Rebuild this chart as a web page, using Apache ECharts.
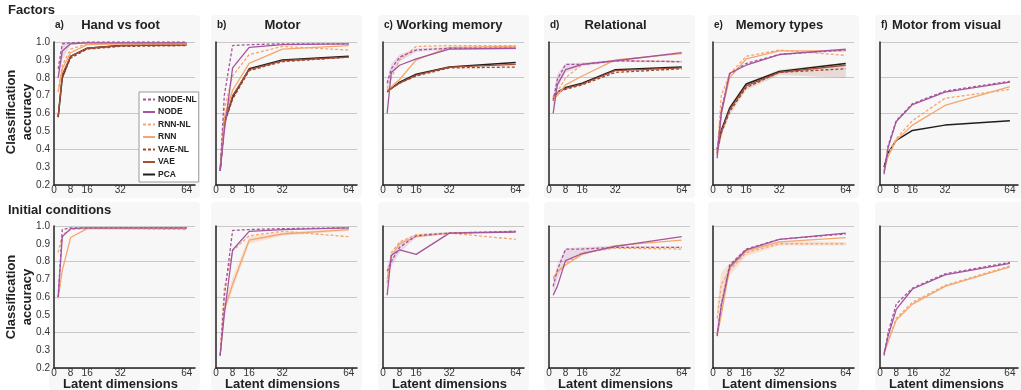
<!DOCTYPE html>
<html>
<head>
<meta charset="utf-8">
<script src="https://cdn.jsdelivr.net/npm/echarts@6/dist/echarts.min.js"></script>
<style>
  html, body { margin: 0; padding: 0; background: #fff; }
  #chart { width: 1021px; height: 390px; }
</style>
</head>
<body>
<div id="chart"></div>
<script>
// latent dimensions sampled
const xDims = [2, 4, 8, 16, 32, 64];
const xTickLabels = [0, 8, 16, 32, 64];
const seriesNames = ['NODE-NL', 'NODE', 'RNN-NL', 'RNN', 'VAE-NL', 'VAE', 'PCA'];
const panelTitles = ['Hand vs foot', 'Motor', 'Working memory', 'Relational', 'Memory types', 'Motor from visual'];
const panelLetters = ['a)', 'b)', 'c)', 'd)', 'e)', 'f)'];

// rows follow seriesNames order, null = not plotted
const factorsHand = [
  [0.85, 0.99, 0.995, 1.0, 1.0, 1.0],
  [0.80, 0.95, 0.99, 0.995, 0.995, 0.995],
  [0.72, 0.87, 0.96, 0.99, 0.99, 0.99],
  [0.72, 0.85, 0.94, 0.985, 0.99, 0.99],
  [0.58, 0.80, 0.91, 0.96, 0.975, 0.98],
  [0.58, 0.82, 0.92, 0.965, 0.98, 0.985],
  [0.58, 0.80, 0.92, 0.965, 0.98, 0.985]
];
const factorsMotor = [
  [0.28, 0.70, 0.98, 0.985, 0.99, 0.99],
  [0.28, 0.50, 0.855, 0.97, 0.985, 0.99],
  [0.28, 0.62, 0.81, 0.93, 0.975, 0.955],
  [0.28, 0.58, 0.73, 0.88, 0.96, 0.98],
  [0.28, 0.54, 0.68, 0.84, 0.89, 0.915],
  [0.28, 0.55, 0.70, 0.845, 0.895, 0.915],
  [0.28, 0.55, 0.69, 0.85, 0.90, 0.92]
];
const factorsWM = [
  [0.77, 0.85, 0.915, 0.955, 0.965, 0.965],
  [0.60, 0.83, 0.87, 0.905, 0.96, 0.965],
  [0.74, 0.80, 0.90, 0.975, 0.98, 0.98],
  [0.73, 0.75, 0.79, 0.90, 0.97, 0.975],
  [0.72, 0.74, 0.77, 0.81, 0.855, 0.86],
  [0.72, 0.74, 0.77, 0.815, 0.86, 0.875],
  [0.73, 0.74, 0.775, 0.82, 0.86, 0.885]
];
const factorsRel = [
  [0.67, 0.79, 0.875, 0.875, 0.895, 0.89],
  [0.60, 0.76, 0.845, 0.875, 0.895, 0.94],
  [0.69, 0.72, 0.80, 0.875, 0.895, 0.89],
  [0.68, 0.70, 0.76, 0.81, 0.90, 0.935],
  [0.68, 0.715, 0.735, 0.76, 0.83, 0.85],
  [0.68, 0.72, 0.74, 0.765, 0.84, 0.855],
  [0.69, 0.72, 0.745, 0.77, 0.845, 0.86]
];
const factorsMem = [
  [0.37, 0.62, 0.82, 0.88, 0.93, 0.955],
  [0.35, 0.60, 0.825, 0.87, 0.93, 0.96],
  [0.38, 0.70, 0.82, 0.92, 0.955, 0.925],
  [0.38, 0.60, 0.80, 0.905, 0.95, 0.95],
  [0.38, 0.49, 0.61, 0.745, 0.83, 0.85],
  [0.39, 0.50, 0.62, 0.755, 0.83, 0.87],
  [0.40, 0.505, 0.63, 0.765, 0.835, 0.88]
];
const factorsVis = [
  [0.27, 0.42, 0.56, 0.655, 0.725, 0.78],
  [0.26, 0.41, 0.555, 0.65, 0.72, 0.775],
  [0.28, 0.37, 0.46, 0.56, 0.685, 0.735],
  [0.28, 0.36, 0.45, 0.535, 0.645, 0.75],
  null,
  null,
  [0.30, 0.38, 0.45, 0.505, 0.535, 0.56]
];
const initHand = [
  [0.60, 0.98, 0.99, 0.99, 0.99, 0.99],
  [0.60, 0.94, 0.985, 0.99, 0.99, 0.99],
  [0.85, 0.95, 0.98, 0.985, 0.985, 0.98],
  [0.59, 0.75, 0.935, 0.985, 0.985, 0.985],
  null, null, null
];
const initMotor = [
  [0.27, 0.60, 0.975, 0.98, 0.985, 0.99],
  [0.27, 0.50, 0.865, 0.97, 0.98, 0.99],
  [0.27, 0.65, 0.86, 0.945, 0.97, 0.94],
  [0.27, 0.53, 0.67, 0.92, 0.955, 0.98],
  null, null, null
];
const initWM = [
  [0.745, 0.80, 0.88, 0.945, 0.96, 0.97],
  [0.61, 0.835, 0.865, 0.84, 0.96, 0.965],
  [0.68, 0.85, 0.91, 0.95, 0.96, 0.925],
  [0.70, 0.83, 0.90, 0.94, 0.96, 0.97],
  null, null, null
];
const initRel = [
  [0.66, 0.75, 0.87, 0.87, 0.88, 0.88],
  [0.61, 0.66, 0.805, 0.845, 0.885, 0.94],
  [0.71, 0.74, 0.79, 0.85, 0.875, 0.87],
  [0.70, 0.74, 0.78, 0.84, 0.89, 0.92],
  null, null, null
];
const initMem = [
  [0.38, 0.56, 0.78, 0.87, 0.925, 0.955],
  [0.39, 0.55, 0.77, 0.865, 0.925, 0.96],
  [0.48, 0.67, 0.75, 0.85, 0.90, 0.90],
  [0.38, 0.50, 0.76, 0.86, 0.91, 0.935],
  null, null, null
];
const initVis = [
  [0.27, 0.40, 0.56, 0.65, 0.73, 0.795],
  [0.28, 0.38, 0.53, 0.645, 0.725, 0.79],
  [0.29, 0.35, 0.48, 0.57, 0.665, 0.775],
  [0.28, 0.35, 0.47, 0.56, 0.66, 0.77],
  null, null, null
];

// shaded spread bands: [panel, series, lower, upper]
const bandHandNode = [0, 0, [0.78, 0.90, 0.985, 0.995, 0.995, 0.995], [0.86, 1.0, 1.0, 1.0, 1.0, 1.0]];
const bandWMNode = [2, 0, [0.74, 0.82, 0.89, 0.945, 0.958, 0.958], [0.79, 0.88, 0.93, 0.965, 0.972, 0.972]];
const bandRelNode = [3, 0, [0.63, 0.74, 0.83, 0.865, 0.888, 0.885], [0.70, 0.82, 0.88, 0.885, 0.90, 0.895]];
const bandMemVae = [4, 4, [0.36, 0.47, 0.59, 0.73, 0.815, 0.80], [0.41, 0.52, 0.64, 0.77, 0.845, 0.885]];
const bandInitMotorRnn = [7, 3, [0.25, 0.50, 0.64, 0.90, 0.945, 0.972], [0.29, 0.57, 0.71, 0.94, 0.965, 0.985]];
const bandInitWMNode = [8, 0, [0.72, 0.77, 0.85, 0.935, 0.955, 0.962], [0.77, 0.84, 0.91, 0.955, 0.966, 0.975]];
const bandInitRelNode = [9, 0, [0.62, 0.70, 0.80, 0.845, 0.875, 0.875], [0.68, 0.78, 0.875, 0.88, 0.89, 0.885]];
const bandInitMemRnn = [10, 2, [0.42, 0.60, 0.72, 0.83, 0.89, 0.89], [0.54, 0.74, 0.79, 0.87, 0.915, 0.91]];

const panels = [factorsHand, factorsMotor, factorsWM, factorsRel, factorsMem, factorsVis,
                initHand, initMotor, initWM, initRel, initMem, initVis];
const bands = [bandHandNode, bandWMNode, bandRelNode, bandMemVae, bandInitMotorRnn, bandInitWMNode, bandInitRelNode, bandInitMemRnn];

const FONT = '"Liberation Sans", Arial, sans-serif';
const colors = ['#a4549c', '#a4549c', '#f5a56e', '#f5a56e', '#9e4732', '#a54f36', '#1e1e1e'];
const bandColors = ['rgba(164,84,156,0.18)', 'rgba(164,84,156,0.18)', 'rgba(245,165,110,0.25)', 'rgba(245,165,110,0.25)',
                    'rgba(158,71,50,0.16)', 'rgba(158,71,50,0.16)', 'rgba(0,0,0,0.1)'];
const dashed = [true, false, true, false, true, false, false];

const colLeft = [54, 216, 383, 549, 713, 880];
const rowTop = [42, 226];
const rowH = [143, 142];
const gridW = 141;

let grids = [], xAxes = [], yAxes = [], series = [], graphics = [];

panels.forEach((panel, p) => {
  const r = Math.floor(p / 6), c = p % 6;
  grids.push({ left: colLeft[c], top: rowTop[r], width: gridW, height: rowH[r], containLabel: false });
  xAxes.push({
    type: 'value', gridIndex: p, min: 0, max: 68, interval: 8,
    axisLine: { show: true, lineStyle: { color: '#222', width: 1.5 } },
    axisTick: { show: false },
    splitLine: { show: false },
    axisLabel: {
      fontFamily: FONT, fontSize: 10, color: '#333', margin: 0,
      formatter: v => xTickLabels.includes(v) ? String(v) : ''
    }
  });
  yAxes.push({
    type: 'value', gridIndex: p, min: 0.2, max: 1.0, interval: 0.1,
    axisLine: { show: true, lineStyle: { color: '#222', width: 1.5 } },
    axisTick: { show: false },
    splitLine: { show: true, lineStyle: { color: ['#c8c8c8', 'rgba(0,0,0,0)'], width: 1 } },
    axisLabel: {
      show: c === 0, fontFamily: FONT, fontSize: 10, color: '#333', margin: 4,
      formatter: v => v.toFixed(1)
    }
  });
  panel.forEach((vals, s) => {
    if (!vals) return;
    series.push({
      name: seriesNames[s], type: 'line', xAxisIndex: p, yAxisIndex: p,
      data: xDims.map((x, i) => [x, vals[i]]),
      showSymbol: false, symbol: 'none', silent: true,
      z: 10 - s,
      lineStyle: { color: colors[s], width: s === 6 ? 1.5 : 1.3, type: dashed[s] ? [3, 2] : 'solid' },
      itemStyle: { color: colors[s] }
    });
  });
  // panel background
  graphics.push({
    type: 'rect', z: -100, silent: true,
    shape: { x: colLeft[c] - 5, y: r === 0 ? 15 : 202, width: 151, height: r === 0 ? 183 : 188, r: 4 },
    style: { fill: '#f7f7f7' }
  });
  if (r === 0) {
    graphics.push({
      type: 'text', silent: true, x: colLeft[c] + 1, y: 25,
      style: { text: panelLetters[c], font: 'bold 10px ' + FONT, fill: '#222', textVerticalAlign: 'middle' }
    });
    graphics.push({
      type: 'text', silent: true, x: colLeft[c] + gridW / 2 - 4, y: 25,
      style: { text: panelTitles[c], font: 'bold 13px ' + FONT, fill: '#222', textAlign: 'center', textVerticalAlign: 'middle' }
    });
  } else {
    graphics.push({
      type: 'text', silent: true, x: colLeft[c] + gridW / 2 - 4, y: 384,
      style: { text: 'Latent dimensions', font: 'bold 13px ' + FONT, fill: '#222', textAlign: 'center', textVerticalAlign: 'middle' }
    });
  }
});

// spread bands as polygons through the axis scales
bands.forEach(([p, s, lo, hi]) => {
  series.push({
    type: 'custom', xAxisIndex: p, yAxisIndex: p, silent: true, z: 1,
    data: xDims.map((x, i) => [x, lo[i], hi[i]]),
    encode: { x: 0, y: [1, 2] },
    renderItem: (params, api) => {
      if (params.dataIndex !== 0) return null;
      const pts = [];
      xDims.forEach((x, i) => pts.push(api.coord([x, lo[i]])));
      for (let i = xDims.length - 1; i >= 0; i--) pts.push(api.coord([xDims[i], hi[i]]));
      return { type: 'polygon', shape: { points: pts }, style: { fill: bandColors[s] } };
    }
  });
});

graphics.push({
  type: 'text', silent: true, x: 8, y: 10,
  style: { text: 'Factors', font: 'bold 13px ' + FONT, fill: '#222', textVerticalAlign: 'middle' }
});
graphics.push({
  type: 'text', silent: true, x: 8, y: 210,
  style: { text: 'Initial conditions', font: 'bold 13px ' + FONT, fill: '#222', textVerticalAlign: 'middle' }
});
[112, 297].forEach(cy => {
  graphics.push({
    type: 'text', silent: true, x: 19, y: cy, rotation: Math.PI / 2,
    style: { text: 'Classification\naccuracy', font: 'bold 13px ' + FONT, lineHeight: 16, fill: '#222', textAlign: 'center', textVerticalAlign: 'middle' }
  });
});

const chart = echarts.init(document.getElementById('chart'), null, { renderer: 'canvas' });
chart.setOption({
  animation: false,
  backgroundColor: '#fff',
  grid: grids,
  xAxis: xAxes,
  yAxis: yAxes,
  legend: {
    data: seriesNames,
    orient: 'vertical',
    left: 139, top: 92,
    selectedMode: false,
    backgroundColor: '#fff',
    borderColor: '#999', borderWidth: 1,
    padding: [3, 2, 3, 3],
    itemWidth: 12, itemHeight: 8, itemGap: 3.5,
    itemStyle: { opacity: 0 },
    lineStyle: { width: 2 },
    textStyle: { fontFamily: FONT, fontWeight: 'bold', fontSize: 8.5, color: '#222', padding: [0, 0, 0, -2] }
  },
  graphic: { elements: graphics },
  series: series
});
</script>
</body>
</html>
